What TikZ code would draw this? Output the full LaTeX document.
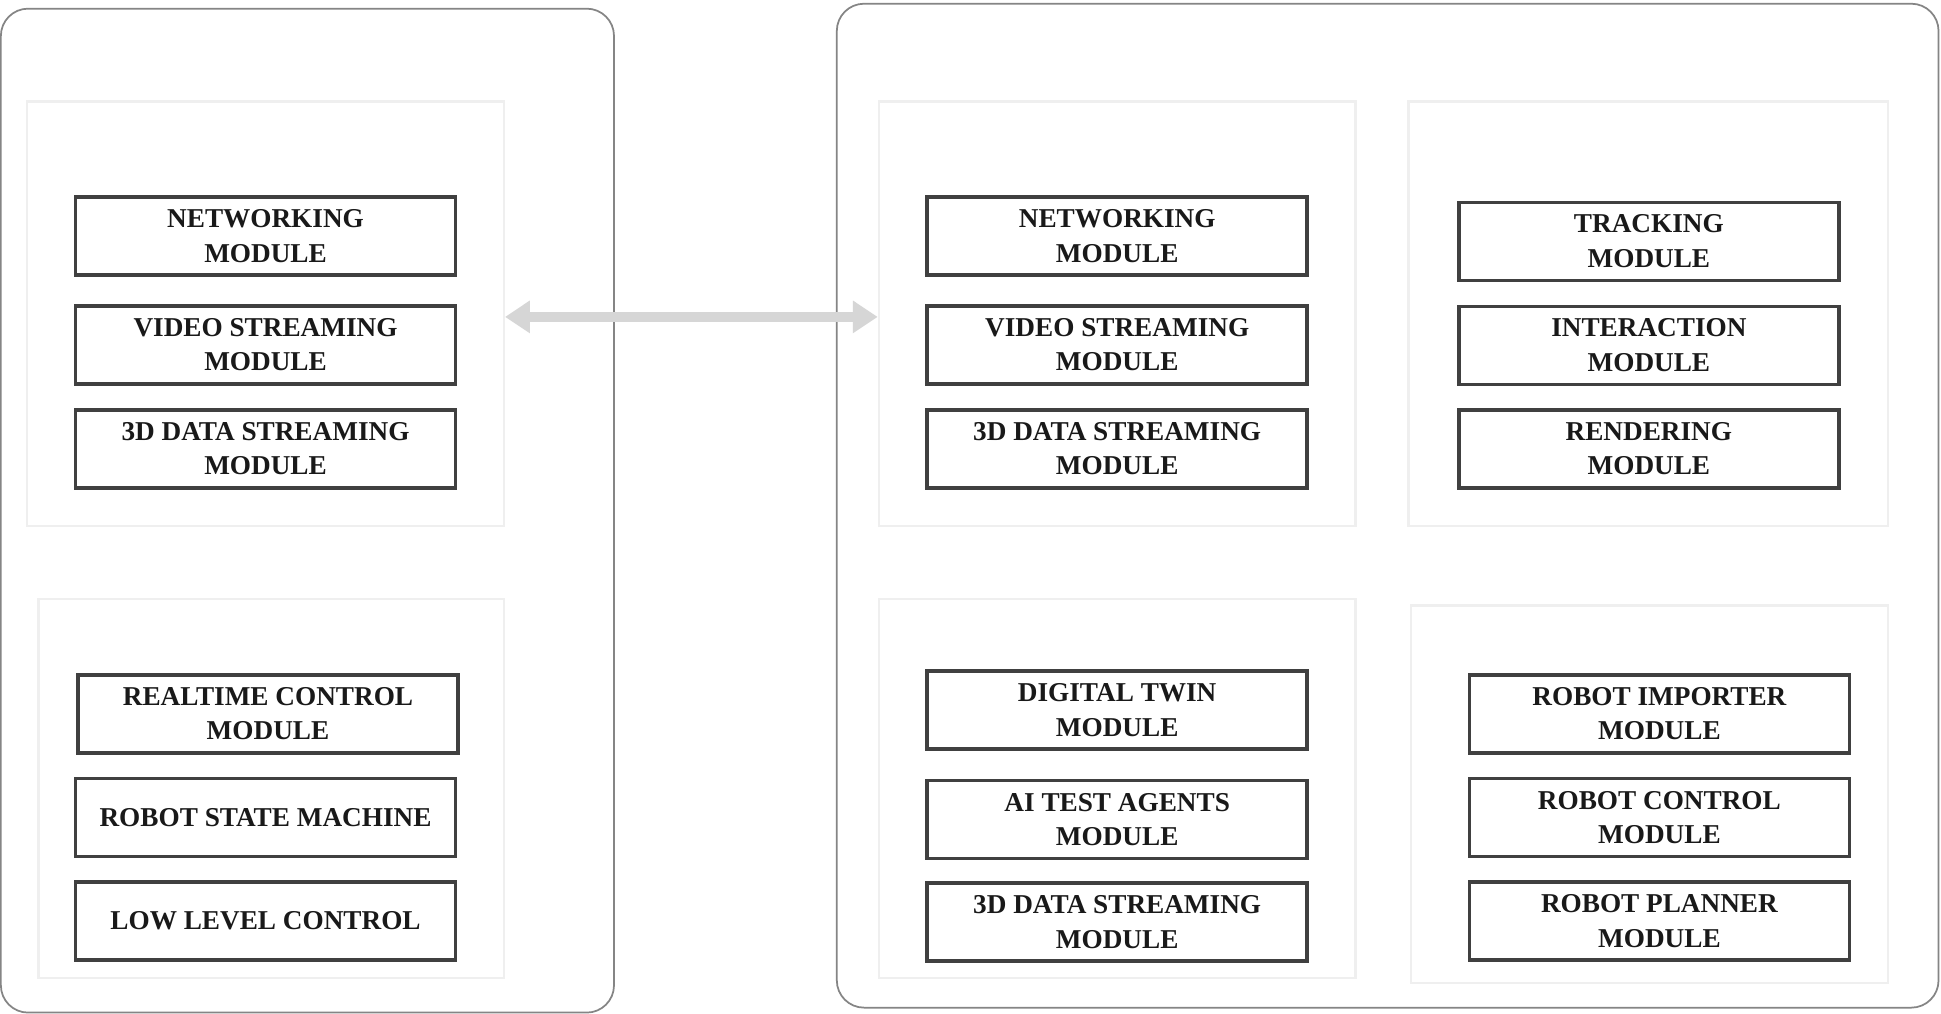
\documentclass[tikz,border=0pt]{standalone}
\usepackage{fontspec}
\setmainfont{Liberation Serif}
\usetikzlibrary{arrows.meta}
\definecolor{outerc}{HTML}{858585}
\definecolor{panelc}{HTML}{EFEFEF}
\definecolor{modc}{HTML}{404040}
\definecolor{arrc}{HTML}{D6D6D6}
\tikzset{
  outerbox/.style={draw=outerc, line width=1.4pt, rounded corners=22pt},
  panel/.style={draw=panelc, line width=2pt, rectangle, anchor=north west, inner sep=0pt},
  mod/.style={draw=modc, line width=3pt, rectangle, minimum width=307pt, minimum height=63pt,
    inner sep=0pt, align=center, font=\fontsize{22}{28}\selectfont\bfseries, text=black!90},
  bigarrow/.style={draw=arrc, line width=8pt, {Triangle[width=25pt,length=20pt]}-{Triangle[width=25pt,length=20pt]}}
}
\begin{document}
\begin{tikzpicture}[x=1pt,y=-1pt]
\useasboundingbox (0,0) rectangle (1568,819);
\fill[white] (0,0) rectangle (1568,819);
% outer containers
\draw[outerbox] (0.7,7) rectangle (496,818);
\draw[outerbox] (676,3) rectangle (1566,814);
% panels
\node[panel, minimum width=385pt, minimum height=343pt] (lt) at (21,81) {};
\node[panel, minimum width=376pt, minimum height=306pt] (lb) at (30,483) {};
\node[panel, minimum width=385pt, minimum height=343pt] (rtl) at (709,81) {};
\node[panel, minimum width=387pt, minimum height=343pt] (rtr) at (1137,81) {};
\node[panel, minimum width=385pt, minimum height=306pt] (rbl) at (709,483) {};
\node[panel, minimum width=385pt, minimum height=305pt] (rbr) at (1139,488) {};
% left top modules
\node[mod] (lnet) at (214.5,190.5) {NETWORKING\\MODULE};
\node[mod] (lvid) at (214.5,278.5) {VIDEO STREAMING\\MODULE};
\node[mod] (l3d) at (214.5,362.5) {3D DATA STREAMING\\MODULE};
% left bottom modules
\node[mod] (lrt) at (216.5,576.5) {REALTIME CONTROL\\MODULE};
\node[mod] (lsm) at (214.5,660.5) {ROBOT STATE MACHINE};
\node[mod] (llc) at (214.5,744) {LOW LEVEL CONTROL};
% right top-left modules
\node[mod] (rnet) at (902.5,190.5) {NETWORKING\\MODULE};
\node[mod] (rvid) at (902.5,278.5) {VIDEO STREAMING\\MODULE};
\node[mod] (r3d) at (902.5,362.5) {3D DATA STREAMING\\MODULE};
% right top-right modules
\node[mod] (rtrk) at (1332,195) {TRACKING\\MODULE};
\node[mod] (rint) at (1332,279) {INTERACTION\\MODULE};
\node[mod] (rren) at (1332,362.5) {RENDERING\\MODULE};
% right bottom-left modules
\node[mod] (rdt) at (902.5,573.5) {DIGITAL TWIN\\MODULE};
\node[mod] (rai) at (902.5,662) {AI TEST AGENTS\\MODULE};
\node[mod] (r3db) at (902.5,745) {3D DATA STREAMING\\MODULE};
% right bottom-right modules
\node[mod] (rimp) at (1340.5,576.5) {ROBOT IMPORTER\\MODULE};
\node[mod] (rctl) at (1340.5,660.5) {ROBOT CONTROL\\MODULE};
\node[mod] (rpln) at (1340.5,744) {ROBOT PLANNER\\MODULE};
% connector
\draw[bigarrow] ([yshift=-2.5pt]lt.east) -- ([yshift=-2.5pt]rtl.west);
\end{tikzpicture}
\end{document}
